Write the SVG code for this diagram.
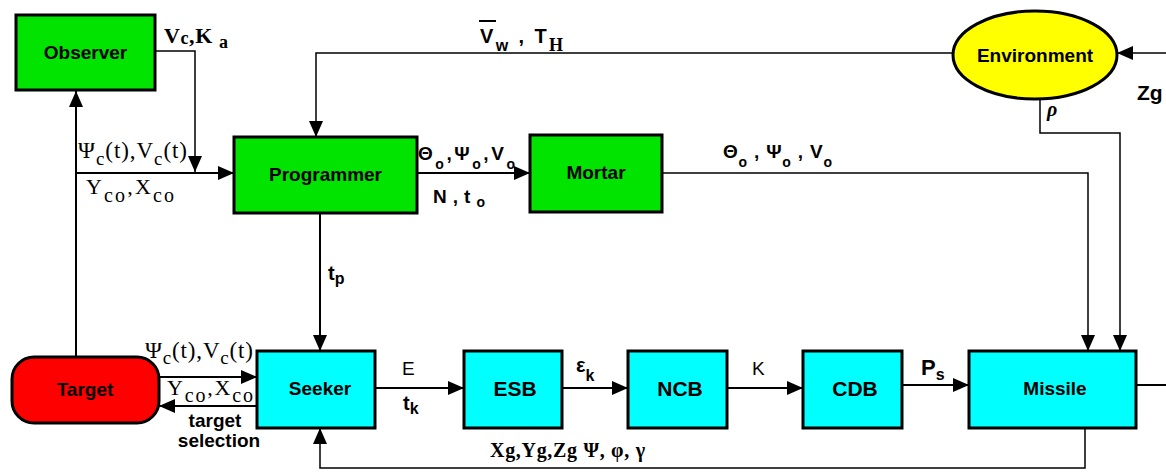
<svg xmlns="http://www.w3.org/2000/svg" width="1166" height="473" viewBox="0 0 1166 473">
<style>
.box{stroke:#000;stroke-width:3}
.g{fill:#00e400}
.c{fill:#00ffff}
.nt{font-family:"Liberation Sans",Arial,sans-serif;font-weight:bold;font-size:19px;text-anchor:middle;fill:#000}
.big{font-size:21px}
.ln{fill:none;stroke:#000;stroke-width:2}
.thin{stroke-width:1.5}
.sans{font-family:"Liberation Sans",Arial,sans-serif;fill:#000}
.serif{font-family:"Liberation Serif","Times New Roman",serif;fill:#000}
.b{font-weight:bold}
</style>
<defs>
<marker id="ah" markerUnits="userSpaceOnUse" markerWidth="16" markerHeight="14" refX="16" refY="7" orient="auto">
<path d="M0,0 L16,7 L0,14 z" fill="#000"/>
</marker>
</defs>
<rect width="1166" height="473" fill="#fff"/>
<g id="connectors">
<path class="ln" d="M76,357 V91" marker-end="url(#ah)"/>
<path class="ln thin" d="M155,51 H195 V172" marker-end="url(#ah)"/>
<path class="ln" d="M76,173 H234" marker-end="url(#ah)"/>
<path class="ln thin" d="M953,53 H316 V137" marker-end="url(#ah)"/>
<path class="ln thin" d="M1166,53 H1117" marker-end="url(#ah)"/>
<path class="ln" d="M418,173 H530" marker-end="url(#ah)"/>
<path class="ln thin" d="M662,173 H1088 V351" marker-end="url(#ah)"/>
<path class="ln thin" d="M1040,99 V133 H1120 V351" marker-end="url(#ah)"/>
<path class="ln" d="M320,213 V351" marker-end="url(#ah)"/>
<path class="ln" d="M159,377 H257" marker-end="url(#ah)"/>
<path class="ln" d="M257,406 H159" marker-end="url(#ah)"/>
<path class="ln" d="M375,388 H464" marker-end="url(#ah)"/>
<path class="ln" d="M562,388 H628" marker-end="url(#ah)"/>
<path class="ln" d="M727,388 H803" marker-end="url(#ah)"/>
<path class="ln" d="M902,385 H969" marker-end="url(#ah)"/>
<path class="ln" d="M1136,385 H1166"/>
<path class="ln thin" d="M1085,428 V468 H320 V428" marker-end="url(#ah)"/>
</g>
<g id="observer"><rect class="box g" x="16" y="15" width="139" height="75"/><text class="nt" x="85.5" y="59">Observer</text></g>
<g id="programmer"><rect class="box g" x="234" y="137" width="183" height="76"/><text class="nt" x="325.5" y="181">Programmer</text></g>
<g id="mortar"><rect class="box g" x="530" y="135" width="132" height="77"/><text class="nt" x="596" y="179">Mortar</text></g>
<g id="environment"><ellipse cx="1035" cy="55" rx="82" ry="44" fill="#ffff00" stroke="#000" stroke-width="3"/><text class="nt" x="1035" y="62">Environment</text></g>
<g id="target"><rect x="12" y="357" width="147" height="66" rx="22" fill="#ff0000" stroke="#000" stroke-width="3"/><text class="nt" x="85" y="396">Target</text></g>
<g id="seeker"><rect class="box c" x="257" y="351" width="118" height="77"/><text class="nt" x="320" y="395">Seeker</text></g>
<g id="esb"><rect class="box c" x="464" y="351" width="98" height="77"/><text class="nt big" x="515" y="396">ESB</text></g>
<g id="ncb"><rect class="box c" x="628" y="351" width="99" height="77"/><text class="nt big" x="680" y="396">NCB</text></g>
<g id="cdb"><rect class="box c" x="803" y="351" width="99" height="77"/><text class="nt big" x="855" y="396">CDB</text></g>
<g id="missile"><rect class="box c" x="969" y="351" width="167" height="77"/><text class="nt" x="1055" y="395">Missile</text></g>
<g id="labels">
<text class="serif b" font-size="22" x="164" y="43" textLength="64" lengthAdjust="spacing">V<tspan font-size="18" dy="1">c</tspan><tspan dy="-1">,K </tspan><tspan font-size="18" dy="5">a</tspan></text>
<text class="serif" font-size="23" x="78" y="158" textLength="109" lengthAdjust="spacing">Ψ<tspan font-size="19" dy="7">c</tspan><tspan dy="-7">(t),V</tspan><tspan font-size="19" dy="7">c</tspan><tspan dy="-7">(t)</tspan></text>
<text class="serif" font-size="22" x="86" y="194" textLength="88" lengthAdjust="spacing">Y<tspan font-size="20" dy="8">co</tspan><tspan dy="-8">,X</tspan><tspan font-size="20" dy="8">co</tspan></text>
<text class="sans b" font-size="19" x="418" y="160" textLength="97" lengthAdjust="spacing">Θ<tspan font-size="14" dy="9">o</tspan><tspan dy="-9">,Ψ</tspan><tspan font-size="14" dy="9">o</tspan><tspan dy="-9">,V</tspan><tspan font-size="14" dy="9">o</tspan></text>
<text class="sans b" font-size="19" x="433" y="203" textLength="52" lengthAdjust="spacing">N , t <tspan font-size="14" dy="4">o</tspan></text>
<text class="sans b" font-size="19" x="723" y="158" textLength="109" lengthAdjust="spacing">Θ<tspan font-size="14" dy="9">o</tspan><tspan dy="-9"> , Ψ</tspan><tspan font-size="14" dy="9">o</tspan><tspan dy="-9"> , V</tspan><tspan font-size="14" dy="9">o</tspan></text>
<text class="sans b" font-size="20" x="480" y="43" textLength="83" lengthAdjust="spacing">V<tspan font-size="16" dy="8">w</tspan><tspan dy="-8"> , T</tspan><tspan class="serif" font-size="18" dy="8">H</tspan></text>
<line x1="479" y1="21" x2="496" y2="21" stroke="#000" stroke-width="2"/>
<text class="serif b" font-style="italic" font-size="20" x="1047" y="116">ρ</text>
<text class="sans b" font-size="21" x="1137" y="100">Zg</text>
<text class="sans b" font-size="20" x="328" y="280">t<tspan font-size="16" dy="4">p</tspan></text>
<text class="serif" font-size="23" x="145" y="358" textLength="108" lengthAdjust="spacing">Ψ<tspan font-size="19" dy="6">c</tspan><tspan dy="-6">(t),V</tspan><tspan font-size="19" dy="6">c</tspan><tspan dy="-6">(t)</tspan></text>
<text class="serif" font-size="22" x="167" y="395" textLength="86" lengthAdjust="spacing">Y<tspan font-size="20" dy="7">co</tspan><tspan dy="-7">,X</tspan><tspan font-size="20" dy="7">co</tspan></text>
<text class="sans b" font-size="19" x="215" y="427" text-anchor="middle">target</text>
<text class="sans b" font-size="19" x="219" y="447" text-anchor="middle">selection</text>
<text class="sans" font-size="19" x="402" y="375">E</text>
<text class="sans b" font-size="20" x="403" y="410">t<tspan font-size="16" dy="4">k</tspan></text>
<text class="sans b" font-size="20" x="576" y="372">ε<tspan font-size="16" dy="9">k</tspan></text>
<text class="sans" font-size="19" x="752" y="375">K</text>
<text class="sans b" font-size="22" x="921" y="375">P<tspan font-size="16" dy="5">s</tspan></text>
<text class="serif b" font-size="20" x="490" y="457" textLength="155" lengthAdjust="spacing">Xg,Yg,Zg Ψ, φ, γ</text>
</g>
</svg>
